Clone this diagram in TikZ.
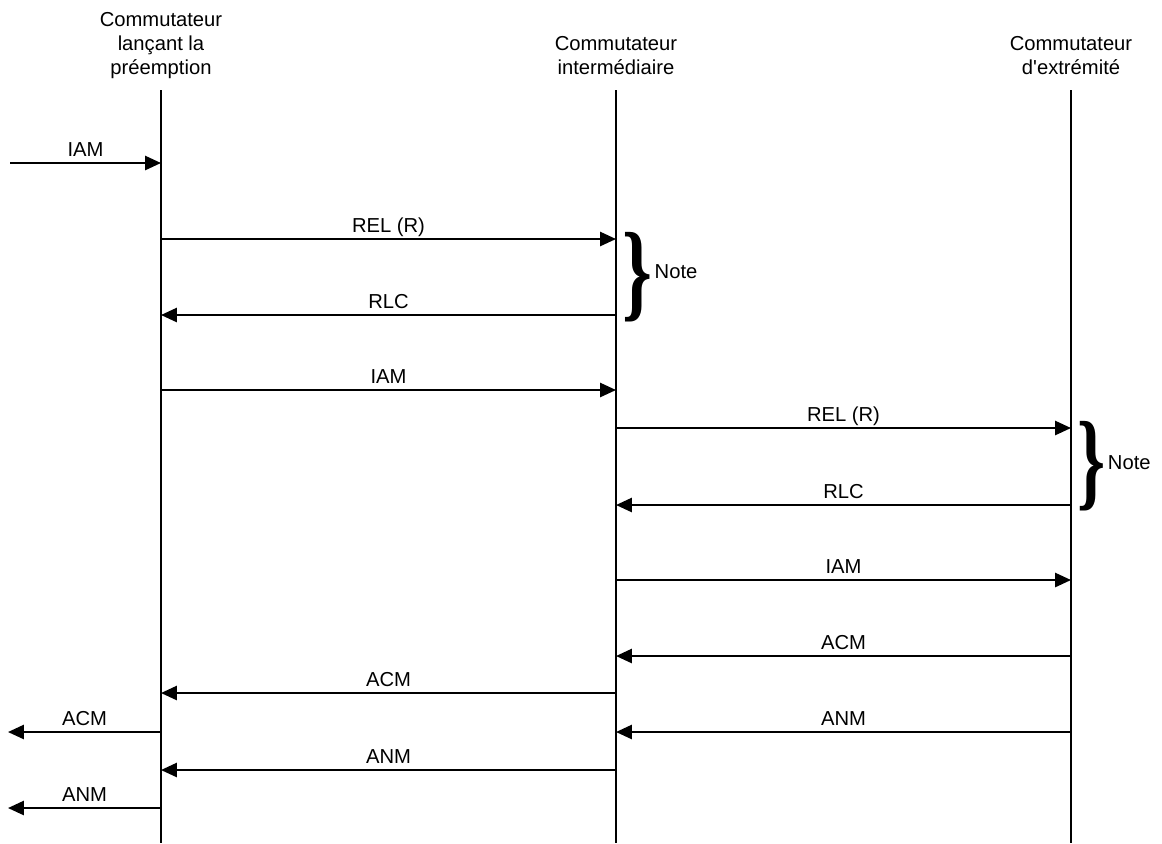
\documentclass[tikz,border=0pt]{standalone}
\usepackage{fontspec}
\setmainfont{Liberation Sans}
\newfontfamily\bracefont{Liberation Serif}
\usetikzlibrary{arrows.meta, positioning}

\begin{document}
\begin{tikzpicture}[
  x=0.02cm, y=-0.02cm,
  font=\fontsize{11.5}{13.6}\selectfont,
  head/.style={align=center, inner sep=0pt, anchor=north},
  life/.style={line width=1.2pt},
  msg/.style={-{Triangle[length=9pt, width=8pt]}, line width=1.2pt},
  lbl/.style={anchor=base, yshift=3.5pt},
  brc/.style={inner sep=0pt, anchor=west, font=\bracefont\bfseries},
  note/.style={inner sep=1pt, anchor=west}
]
\useasboundingbox (0,0) rectangle (1162,843);

% switches
\node[head] (h1) at (161,12) {Commutateur\\lançant la\\préemption};
\node[head] (h2) at (616,36) {Commutateur\\intermédiaire};
\node[head] (h3) at (1071,36) {Commutateur\\d\textquotesingle extrémité};

\coordinate (A) at (161,90);
\coordinate (B) at (616,90);
\coordinate (C) at (1071,90);
\coordinate (Abot) at (161,843);
\coordinate (Bbot) at (616,843);
\coordinate (Cbot) at (1071,843);
\draw[life] (A) -- (Abot);
\draw[life] (B) -- (Bbot);
\draw[life] (C) -- (Cbot);

% outside the three switches
\coordinate (In) at (10,90);
\coordinate (Out) at (8,90);

% messages
\foreach \from/\to/\yy/\txt in {
    In/A/163/IAM,
    A/B/239/{REL (R)},
    B/A/315/RLC,
    A/B/390/IAM,
    B/C/428/{REL (R)},
    C/B/505/RLC,
    B/C/580/IAM,
    C/B/656/ACM,
    B/A/693/ACM,
    A/Out/732/ACM,
    C/B/732/ANM,
    B/A/770/ANM,
    A/Out/808/ANM}
  \draw[msg] (\from |- 0,\yy) -- node[lbl] {\txt} (\to |- 0,\yy);

% notes
\node[brc] (br1) at (622,277) {\resizebox*{17pt}{51pt}{\}}};
\node[note] (n1) at (br1.east |- 0,272) {Note};
\node[brc] (br2) at (1077,466) {\resizebox*{16pt}{51pt}{\}}};
\node[note] (n2) at (br2.east |- 0,463) {Note};
\end{tikzpicture}
\end{document}
